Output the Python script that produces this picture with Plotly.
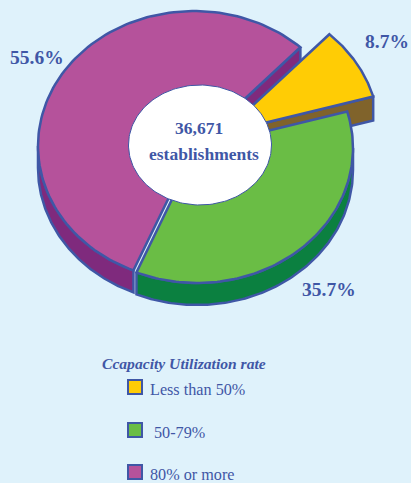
import numpy as np
import plotly.graph_objects as go

categories = ["Less than 50%", "50-79%", "80% or more"]
shares = [8.7, 35.7, 55.6]
share_labels = ["8.7%", "35.7%", "55.6%"]
total_label = "36,671"
total_unit = "establishments"
legend_title = "Ccapacity Utilization rate"

BG = "#DFF2FB"
INK = "#3F57A6"
TOP = ["#FFCC05", "#6ABD45", "#B5529B"]
SIDE = ["#80632B", "#0B8040", "#7F2A7D"]
RX, RY, DEPTH = 156, 135, 22
CENTERS = [(223, 133), (197, 148), (194, 146)]
START = 47.0

spans = [s * 3.6 for s in shares]
p_start, p_end = START, START + spans[2]
g_start, g_end = p_end, p_end + spans[1]
y_start, y_end = g_end, g_end + spans[0]
ANGLES = [(y_start, y_end), (g_start, g_end), (p_start, p_end)]


def arc(c, a, b, dy=0):
    t = np.radians(np.linspace(a, b, 120))
    return c[0] + RX * np.cos(t), c[1] - RY * np.sin(t) + dy


def poly(fig, x, y, fill):
    fig.add_trace(go.Scatter(
        x=list(x), y=list(y), mode="lines", fill="toself", fillcolor=fill,
        line=dict(color=INK, width=2.5), hoverinfo="skip", showlegend=False))


def wedge(fig, i):
    c = CENTERS[i]
    a, b = ANGLES[i]
    x, y = arc(c, a, b)
    poly(fig, [c[0], *x, c[0]], [c[1], *y, c[1]], TOP[i])


def outer_side(fig, i, a, b):
    c = CENTERS[i]
    x1, y1 = arc(c, a, b)
    x2, y2 = arc(c, b, a, DEPTH)
    poly(fig, [*x1, *x2, x1[0]], [*y1, *y2, y1[0]], SIDE[i])


def cut_face(fig, i, ang, depth=DEPTH):
    c = CENTERS[i]
    x, y = arc(c, ang, ang)
    ex, ey = x[0], y[0]
    poly(fig, [c[0], ex, ex, c[0], c[0]],
         [c[1], ey, ey + depth, c[1] + depth, c[1]], SIDE[i])


fig = go.Figure()
outer_side(fig, 2, 180, p_end)
cut_face(fig, 2, p_start)
outer_side(fig, 1, g_start, 360)
cut_face(fig, 0, y_start, DEPTH + 2)
wedge(fig, 2)
wedge(fig, 1)
wedge(fig, 0)

# centre hole
t = np.radians(np.linspace(0, 360, 181))
fig.add_trace(go.Scatter(
    x=200 + 71.5 * np.cos(t), y=145 + 60 * np.sin(t), mode="lines",
    fill="toself", fillcolor="white", line=dict(color=INK, width=1),
    hoverinfo="skip", showlegend=False))

# text
FONT = "Liberation Serif"
def label(x, y, txt, size, bold=True, italic=False, anchor="center"):
    if bold:
        txt = f"<b>{txt}</b>"
    if italic:
        txt = f"<i>{txt}</i>"
    fig.add_annotation(x=x, y=y, text=txt, showarrow=False, xanchor=anchor,
                       yanchor="middle", font=dict(family=FONT, size=size, color=INK))

label(387, 41, share_labels[0], 19.5)
label(329, 289, share_labels[1], 19.5)
label(37, 57, share_labels[2], 19.5)
label(199, 128, total_label, 17.5)
label(204, 154, total_unit, 17.5)
label(100, 363, legend_title, 15.6, italic=True, anchor="left")

# legend
sw_y = [387, 430, 472]
sw_tx = [148, 152, 148]
fig.add_trace(go.Scatter(
    x=[135] * 3, y=sw_y, mode="markers", hoverinfo="skip", showlegend=False,
    marker=dict(symbol="square", size=14, color=TOP, line=dict(color=INK, width=2))))
for name, y, tx in zip(categories, sw_y, sw_tx):
    label(tx, y + 3, name, 16.2, bold=False, anchor="left")

fig.update_layout(
    width=411, height=483, margin=dict(l=0, r=0, t=0, b=0),
    paper_bgcolor=BG, plot_bgcolor=BG,
    xaxis=dict(visible=False, range=[0, 411], fixedrange=True),
    yaxis=dict(visible=False, range=[483, 0], fixedrange=True),
)
fig.write_html("out.html", config={"displayModeBar": False},
               post_script="document.body.style.margin='0';document.body.style.background='#DFF2FB';document.body.style.overflow='hidden';")
